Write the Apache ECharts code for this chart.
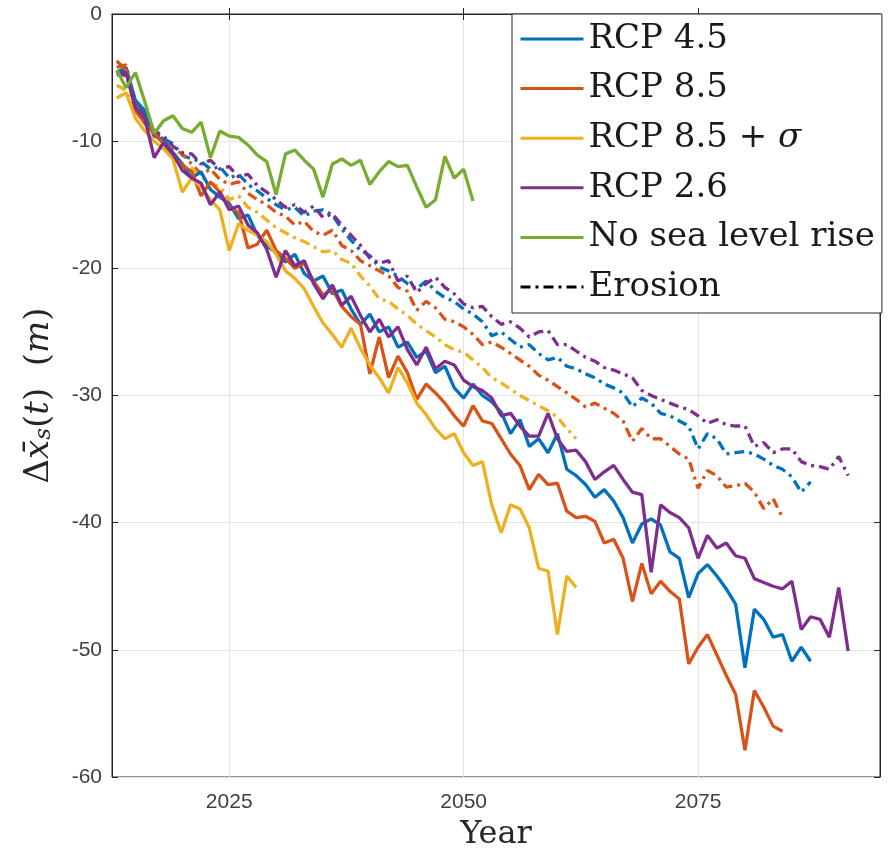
<!DOCTYPE html>
<html>
<head>
<meta charset="UTF-8">
<title>Shoreline retreat</title>
<script src="https://cdn.jsdelivr.net/npm/echarts/dist/echarts.min.js"></script>
<style>
  html, body { margin: 0; padding: 0; background: #fff; }
  #chart { width: 891px; height: 856px; }
</style>
</head>
<body>
<div id="chart"></div>
<script>
// yearly values, first point is firstYear
var firstYear = 2013;
var xTicks = [2025, 2050, 2075];
var legendNames = ['RCP 4.5', 'RCP 8.5', 'RCP 8.5 + σ', 'RCP 2.6', 'No sea level rise', 'Erosion'];

// solid lines
var rcp45 = [-4.6,-4.2,-6.8,-7.6,-9.6,-9.9,-10.9,-11.8,-12.9,-12.4,
  -13.8,-14.4,-14.9,-16.1,-15.8,-17.4,-18.2,-18.8,-19.5,-18.9,
  -20.4,-21.0,-20.6,-22.0,-21.7,-23.2,-24.4,-23.6,-25.0,-24.6,
  -26.2,-25.8,-27.0,-26.5,-28.2,-27.7,-29.4,-30.2,-29.1,-30.0,
  -30.5,-31.3,-33.0,-31.9,-34.0,-33.4,-34.5,-33.0,-35.8,-36.3,
  -37.0,-38.0,-37.4,-38.3,-39.6,-41.6,-40.1,-39.7,-40.2,-42.3,
  -42.8,-45.9,-44.0,-43.3,-44.2,-45.2,-46.4,-51.4,-46.8,-47.6,
  -49.0,-48.8,-50.9,-49.8,-50.9];
var rcp85 = [-3.7,-4.4,-7.6,-8.6,-9.4,-10.2,-11.2,-11.9,-12.4,-14.3,
  -13.2,-14.0,-15.2,-15.6,-18.4,-18.1,-17.0,-18.6,-19.2,-20.0,
  -19.6,-21.0,-22.1,-21.6,-23.0,-23.8,-24.4,-28.3,-25.4,-28.6,
  -26.9,-28.2,-30.3,-29.1,-29.8,-30.6,-31.6,-32.4,-30.8,-32.0,
  -32.2,-33.4,-34.6,-35.5,-37.4,-36.2,-37.0,-36.9,-39.1,-39.6,
  -39.5,-39.9,-41.6,-41.3,-42.8,-46.2,-43.2,-45.6,-44.6,-45.4,
  -46.0,-51.1,-49.8,-48.8,-50.4,-52.0,-53.5,-57.9,-53.2,-54.5,
  -56.0,-56.4];
var rcp85s = [-6.6,-6.2,-8.2,-9.2,-10.0,-10.6,-11.4,-14.0,-12.9,-13.6,
  -14.6,-15.4,-18.6,-16.5,-17.0,-17.4,-17.9,-18.9,-20.2,-20.8,
  -21.6,-23.0,-24.3,-25.2,-26.2,-24.7,-26.3,-27.6,-28.6,-29.8,
  -27.8,-29.0,-30.6,-31.5,-32.6,-33.4,-33.0,-34.5,-35.5,-35.2,
  -38.6,-40.8,-38.6,-38.9,-40.4,-43.6,-43.8,-48.8,-44.2,-45.1];
var rcp26 = [-4.8,-4.6,-7.4,-8.2,-11.3,-10.1,-11.0,-12.3,-12.9,-13.3,
  -15.0,-14.0,-15.4,-15.1,-16.6,-17.2,-18.5,-20.7,-18.6,-19.8,
  -19.4,-21.2,-22.4,-21.3,-22.9,-22.2,-23.7,-25.0,-24.0,-25.4,
  -24.6,-26.4,-27.6,-26.2,-27.9,-27.3,-27.6,-28.8,-29.3,-29.6,
  -30.2,-31.6,-31.4,-32.4,-33.2,-33.2,-31.4,-33.4,-34.4,-34.3,
  -35.2,-36.6,-36.0,-35.5,-36.6,-37.6,-37.8,-43.9,-38.6,-39.2,
  -39.6,-40.4,-42.8,-41.0,-42.0,-41.6,-42.6,-42.8,-44.4,-44.7,
  -45.0,-45.2,-44.6,-48.4,-47.4,-47.6,-49.0,-45.1,-50.1];
var noSlr = [-4.4,-5.8,-4.6,-6.9,-9.4,-8.4,-8.0,-9.0,-9.3,-8.5,
  -11.3,-9.2,-9.6,-9.7,-10.3,-11.1,-11.6,-14.2,-11.0,-10.7,
  -11.5,-12.2,-14.4,-11.8,-11.4,-11.9,-11.5,-13.4,-12.4,-11.6,
  -12.0,-11.9,-13.6,-15.2,-14.6,-11.2,-12.9,-12.2,-14.7];

// erosion only (dash-dot)
var ero45 = [-4.7,-4.4,-7.0,-7.8,-9.4,-9.8,-10.2,-11.1,-11.4,-11.6,
  -12.2,-12.0,-12.9,-12.6,-13.4,-13.9,-14.5,-15.0,-15.4,-15.2,
  -15.9,-15.5,-15.4,-15.8,-16.9,-17.8,-18.6,-19.0,-19.9,-20.2,
  -20.6,-21.2,-21.6,-21.0,-21.8,-22.3,-22.6,-23.2,-23.6,-24.2,
  -25.3,-25.0,-25.6,-26.2,-26.0,-26.7,-27.2,-27.0,-27.7,-27.9,
  -28.3,-28.6,-29.1,-29.4,-29.8,-30.9,-30.2,-30.6,-31.4,-31.6,
  -32.0,-32.4,-34.2,-33.0,-33.4,-34.6,-34.5,-34.4,-34.6,-35.0,
  -35.5,-35.8,-36.4,-37.6,-36.8];
var ero85 = [-4.2,-4.0,-7.2,-8.2,-9.0,-9.9,-10.6,-11.0,-11.8,-12.6,
  -12.2,-13.0,-13.4,-13.2,-14.1,-14.6,-15.0,-15.6,-15.9,-16.6,
  -16.3,-17.1,-17.4,-17.0,-18.2,-18.6,-19.4,-19.8,-20.2,-20.6,
  -21.5,-21.8,-23.3,-22.6,-23.1,-24.0,-24.2,-24.6,-25.2,-26.0,
  -25.8,-26.2,-26.7,-27.2,-27.7,-28.4,-28.8,-29.3,-29.8,-30.3,
  -30.9,-30.6,-31.0,-31.4,-32.0,-33.6,-32.6,-33.4,-33.4,-34.0,
  -34.6,-35.0,-37.3,-35.9,-36.3,-37.2,-37.1,-36.9,-37.6,-38.9,
  -38.1,-39.6];
var ero85s = [-5.6,-6.0,-7.6,-8.6,-9.6,-10.0,-10.8,-11.9,-12.1,-12.8,
  -13.3,-13.6,-14.6,-14.3,-15.2,-15.6,-16.2,-16.8,-17.2,-17.6,
  -17.9,-18.3,-18.7,-18.6,-19.3,-19.6,-20.6,-21.4,-22.4,-22.6,
  -23.2,-23.7,-24.4,-24.9,-25.4,-26.0,-26.4,-26.6,-27.2,-27.8,
  -28.6,-29.0,-29.5,-30.0,-30.4,-30.8,-31.2,-31.7,-32.6,-33.4];
var ero26 = [-4.5,-4.9,-6.8,-8.0,-9.2,-9.6,-10.4,-10.9,-11.0,-11.8,
  -11.5,-12.2,-12.0,-12.8,-12.6,-13.5,-14.0,-14.6,-15.2,-15.0,
  -15.6,-15.1,-16.0,-15.7,-16.6,-17.4,-18.2,-19.2,-19.6,-19.4,
  -21.0,-20.6,-21.9,-21.2,-20.7,-21.5,-22.0,-22.8,-23.1,-23.0,
  -23.8,-24.4,-24.2,-24.7,-25.4,-25.0,-24.9,-26.0,-26.0,-26.5,
  -27.0,-27.3,-27.8,-28.0,-28.3,-28.6,-29.6,-30.0,-30.3,-30.6,
  -30.9,-31.1,-31.6,-32.2,-31.9,-32.3,-32.4,-32.4,-34.0,-33.7,
  -34.5,-34.2,-34.2,-35.2,-35.5,-35.6,-35.8,-34.8,-36.3];

var cBlue = '#0072BD', cRed = '#D95319', cYellow = '#EDB120', cPurple = '#7E2F8E', cGreen = '#77AC30';
var dashDot = [10, 5, 3, 5];

function pairs(vals) {
  return vals.map(function (v, i) { return [firstYear + i, v]; });
}
function line(name, vals, color, dashed) {
  return {
    name: name,
    type: 'line',
    data: pairs(vals),
    symbol: 'none',
    showSymbol: false,
    animation: false,
    silent: true,
    lineStyle: { color: color, width: 3.3, type: dashed ? dashDot : 'solid' },
    itemStyle: { color: color }
  };
}

var chart = echarts.init(document.getElementById('chart'));
var axisColor = '#262626';
var serif = 'DejaVu Serif';

var option = {
  backgroundColor: '#fff',
  animation: false,
  grid: { left: 112, right: 11, top: 14, bottom: 72, show: true, borderColor: axisColor, borderWidth: 1 },
  legend: {
    orient: 'vertical',
    left: 512, top: 14,
    padding: [8, 7, 9, 7],
    itemGap: 15.6,
    itemWidth: 63, itemHeight: 14,
    backgroundColor: '#fff',
    borderColor: axisColor, borderWidth: 1,
    selectedMode: false,
    data: legendNames,
    itemStyle: { opacity: 0 },
    lineStyle: { width: 3 },
    formatter: function (name) {
      if (name === 'RCP 8.5 + σ') return '{n|RCP 8.5 + }{s|σ}';
      return name;
    },
    textStyle: {
      fontFamily: serif, fontSize: 34, color: '#1a1a1a',
      rich: {
        n: { fontFamily: serif, fontSize: 34, color: '#1a1a1a' },
        s: { fontFamily: serif, fontStyle: 'italic', fontSize: 34, color: '#1a1a1a' }
      }
    }
  },
  xAxis: [{
    type: 'value', min: 2012.5, max: 2094.4,
    name: 'Year', nameLocation: 'middle', nameGap: 42,
    nameTextStyle: { fontFamily: serif, fontSize: 32, color: '#262626' },
    axisLine: { show: true, lineStyle: { color: axisColor } },
    axisTick: { show: true, inside: true, length: 6, customValues: xTicks, lineStyle: { color: axisColor } },
    axisLabel: {
      customValues: xTicks, margin: 15, fontFamily: 'Liberation Sans', fontSize: 21, color: '#404040',
      formatter: function (v) { return String(v); }
    },
    splitLine: { show: true, lineStyle: { color: '#e3e3e3' } }
  }, {
    type: 'value', min: 2012.5, max: 2094.4, position: 'top',
    axisLine: { show: true, lineStyle: { color: axisColor } },
    axisTick: { show: true, inside: true, length: 6, customValues: xTicks, lineStyle: { color: axisColor } },
    axisLabel: { show: false },
    splitLine: { show: false }
  }],
  yAxis: [{
    type: 'value', min: -60, max: 0, interval: 10,
    name: '{d|Δ}{i|x\u0304}{s|s}{d|(}{i|t}{d|)  (}{i|m}{d|)}',
    nameLocation: 'middle', nameGap: 56,
    nameTextStyle: {
      color: '#262626',
      rich: {
        d: { fontFamily: serif, fontSize: 34, color: '#262626' },
        i: { fontFamily: serif, fontStyle: 'italic', fontSize: 34, color: '#262626' },
        s: { fontFamily: serif, fontStyle: 'italic', fontSize: 23, color: '#262626', verticalAlign: 'bottom' }
      }
    },
    axisLine: { show: true, lineStyle: { color: axisColor } },
    axisTick: { show: true, inside: true, length: 6, lineStyle: { color: axisColor } },
    axisLabel: { margin: 10, fontFamily: 'Liberation Sans', fontSize: 21, color: '#404040' },
    splitLine: { show: true, lineStyle: { color: '#e3e3e3' } }
  }, {
    type: 'value', min: -60, max: 0, interval: 10, position: 'right',
    axisLine: { show: true, lineStyle: { color: axisColor } },
    axisTick: { show: true, inside: true, length: 6, lineStyle: { color: axisColor } },
    axisLabel: { show: false },
    splitLine: { show: false }
  }],
  series: [
    line('RCP 4.5 erosion', ero45, cBlue, true),
    line('RCP 8.5 erosion', ero85, cRed, true),
    line('RCP 8.5 + σ erosion', ero85s, cYellow, true),
    line('RCP 2.6 erosion', ero26, cPurple, true),
    line('RCP 4.5', rcp45, cBlue, false),
    line('RCP 8.5', rcp85, cRed, false),
    line('RCP 8.5 + σ', rcp85s, cYellow, false),
    line('RCP 2.6', rcp26, cPurple, false),
    line('No sea level rise', noSlr, cGreen, false),
    line('Erosion', [], '#000', true)
  ]
};
chart.setOption(option);
</script>
</body>
</html>
